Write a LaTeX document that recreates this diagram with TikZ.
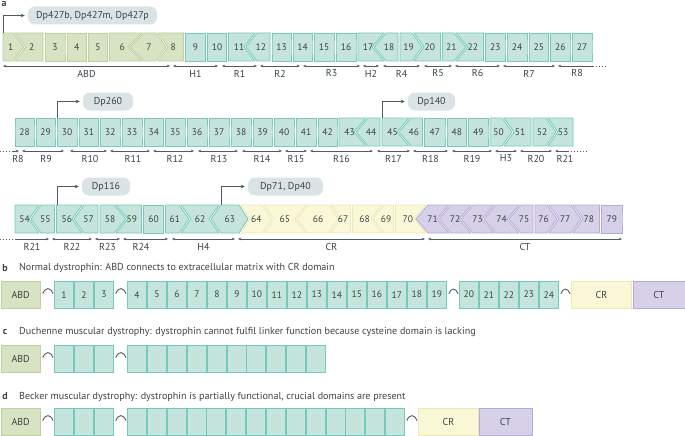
\documentclass[tikz,border=0pt]{standalone}
\usepackage{fontspec}
\setmainfont{PT Sans}
\usetikzlibrary{arrows.meta,calc}
\definecolor{tealF}{HTML}{C4E4DC}
\definecolor{tealD}{HTML}{74CBBB}
\definecolor{grnF}{HTML}{D7E3C3}
\definecolor{grnD}{HTML}{BDD09E}
\definecolor{yelF}{HTML}{FAF8D7}
\definecolor{yelD}{HTML}{ECE9B5}
\definecolor{purF}{HTML}{D6D1E8}
\definecolor{purD}{HTML}{B4ABD8}
\definecolor{dpF}{HTML}{DAE4E7}
\definecolor{ink}{HTML}{3D4347}
\definecolor{arr}{HTML}{4E5C66}
\tikzset{
 exG/.style={fill=grnF,draw=grnD,line width=0.8pt},
 exT/.style={fill=tealF,draw=tealD,line width=0.8pt},
 exY/.style={fill=yelF,draw=yelD,line width=0.8pt},
 exP/.style={fill=purF,draw=purD,line width=0.8pt},
 exnum/.style={font=\fontsize{9.5}{10}\selectfont,text=ink,inner sep=0pt},
 tipA/.tip={Stealth[length=3.2pt,width=2.6pt]},
 dim/.style={draw=arr,line width=0.6pt,{tipA}-{tipA}},
 dimL/.style={draw=arr,line width=0.6pt,{tipA}-},
 dimR/.style={draw=arr,line width=0.6pt,-{tipA}},
 dotl/.style={draw=arr,line width=0.6pt,dash pattern=on 1.3pt off 1.7pt},
 dimlab/.style={font=\fontsize{10}{10}\selectfont,text=ink,inner sep=0pt},
 dpbox/.style={fill=dpF,rounded corners=7pt,minimum height=18pt,inner sep=0pt,font=\fontsize{10}{10}\selectfont,text=ink},
 prom/.style={draw=arr,line width=0.9pt,-{Stealth[length=4pt,width=3.6pt]},shorten >=3pt},
 lett/.style={font=\bfseries\fontsize{10}{10}\selectfont,text=ink,inner sep=0pt},
 captxt/.style={font=\fontsize{10.1}{11}\selectfont,text=ink,inner sep=0pt,anchor=west},
 dbox/.style={anchor=north west,minimum height=26.5pt,inner sep=0pt,line width=0.8pt,font=\fontsize{10}{10}\selectfont,text=ink},
 dG/.style={dbox,fill=grnF,draw=grnD},
 dY/.style={dbox,fill=yelF,draw=yelD},
 dP/.style={dbox,fill=purF,draw=purD},
 sqT/.style={dbox,minimum width=19pt,fill=tealF,draw=tealD,font=\fontsize{9.5}{10}\selectfont},
 hinge/.style={draw=arr,line width=0.9pt,out=70,in=110,looseness=1.8}
}
\newcommand{\exrow}[2]{%
 \foreach \n/\a/\b/\c/\d/\s in {#2}{%
   \path[\s] (\a+1,#1) -- (\c-1,#1) -- (\d-1,#1+14) -- (\c-1,#1+28) -- (\a+1,#1+28) -- (\b+1,#1+14) -- cycle;
   \pgfmathsetmacro{\xm}{(\a+\b+\c+\d)/4}
   \node[exnum] (e\n) at (\xm,#1+14) {\n};
 }}
\newcommand{\dimA}[5]{%
 \coordinate (#1l) at (#2,#4); \coordinate (#1r) at (#3,#4);
 \draw[dim] (#1l) -- node[midway,yshift=-7.5pt,dimlab] (#1t) {#5} (#1r);}
\newcommand{\dimB}[6]{% explicit label x
 \coordinate (#1l) at (#2,#4); \coordinate (#1r) at (#3,#4);
 \draw[dim] (#1l) -- (#1r);
 \node[dimlab] (#1t) at (#6,#4+7.5) {#5};}
\begin{document}
\begin{tikzpicture}[x=1pt,y=-1pt]
\useasboundingbox (0,0) rectangle (685,436);
% ---------------- part a
\node[lett] (la) at (4,4) {a};
\exrow{33}{1/2/2/14/25/exG, 2/14/25/44/44/exG, 3/44/44/66/66/exG, 4/66/66/87.5/87.5/exG, 5/87.5/87.5/108.5/108.5/exG, 6/108.5/108.5/143/129/exG, 7/143/129/157/167/exG, 8/157/167/184.5/184.5/exG, 9/184.5/184.5/206.5/206.5/exT, 10/206.5/206.5/227.5/227.5/exT, 11/227.5/227.5/256/245/exT, 12/256/245/271/271/exT, 13/271/271/292/292/exT, 14/292/292/313/313/exT, 15/313/313/335/335/exT, 16/335/335/357/357/exT, 17/357/357/385/373/exT, 18/385/373/399/399/exT, 19/399/399/413/423/exT, 20/413/423/441.5/441.5/exT, 21/441.5/441.5/455/467/exT, 22/455/467/484.5/484.5/exT, 23/484.5/484.5/506/506/exT, 24/506/506/528/528/exT, 25/528/528/549.5/549.5/exT, 26/549.5/549.5/571/571/exT, 27/571/571/593/593/exT}
\exrow{118}{28/14/14/35/35/exT, 29/35/35/56/56/exT, 30/56/56/78/78/exT, 31/78/78/99.5/99.5/exT, 32/99.5/99.5/121/121/exT, 33/121/121/143/143/exT, 34/143/143/164.5/164.5/exT, 35/164.5/164.5/186/186/exT, 36/186/186/208/208/exT, 37/208/208/230/230/exT, 38/230/230/252/252/exT, 39/252/252/273/273/exT, 40/273/273/295/295/exT, 41/295/295/317/317/exT, 42/317/317/338/338/exT, 43/338/338/367/355/exT, 44/367/355/381/381/exT, 45/381/381/410/398/exT, 46/410/398/423.5/423.5/exT, 47/423.5/423.5/446/446/exT, 48/446/446/467.5/467.5/exT, 49/467.5/467.5/489/489/exT, 50/489/489/503/513/exT, 51/503/513/532/532/exT, 52/532/532/547/557/exT, 53/547/557/574/574/exT}
\exrow{205}{54/14/14/40/30/exT, 55/40/30/55.5/55.5/exT, 56/55.5/55.5/83/73/exT, 57/83/73/99/99/exT, 58/99/99/115/127/exT, 59/115/127/142.5/142.5/exT, 60/142.5/142.5/164.5/164.5/exT, 61/164.5/164.5/180/190/exT, 62/180/190/220/210/exT, 63/220/210/240/249/exT, 64/240/249/263/273/exY, 65/263/273/307/296/exY, 66/307/296/330/339/exY, 67/330/339/351.5/351.5/exY, 68/351.5/351.5/383/372/exY, 69/383/372/394.5/394.5/exY, 70/394.5/394.5/427/415/exY, 71/427/415/450/438/exP, 72/450/438/472/460/exP, 73/472/460/495/483/exP, 74/495/483/520/508/exP, 75/520/508/534/534/exP, 76/534/534/548/558/exP, 77/548/558/572/582/exP, 78/572/582/600.5/600.5/exP, 79/600.5/600.5/623/623/exP}
% promoters
\node[dpbox,minimum width=129pt] (dp427) at (92.5,15.5) {Dp427b, Dp427m, Dp427p};
\node[dpbox,minimum width=50pt] (dp260) at (108,101.5) {Dp260};
\node[dpbox,minimum width=47pt] (dp140) at (431.5,101.5) {Dp140};
\node[dpbox,minimum width=48pt] (dp116) at (106,186.5) {Dp116};
\node[dpbox,minimum width=75pt] (dp71) at (285.5,186.5) {Dp71, Dp40};
\coordinate (s427) at (3,33);
\coordinate (s260) at (57,118);
\coordinate (s140) at (382,118);
\coordinate (s116) at (57,205);
\coordinate (s71) at (221,205);
\draw[prom] (s427) |- (dp427);
\draw[prom] (s260) |- (dp260);
\draw[prom] (s140) |- (dp140);
\draw[prom] (s116) |- (dp116);
\draw[prom] (s71) |- (dp71);
% domain arrows row 1
\dimA{abd}{3}{170}{66}{ABD}
\dimA{h1}{173}{218}{66}{H1}
\dimA{r1}{222}{257}{66}{R1}
\dimA{r2}{260}{300}{66}{R2}
\dimA{r3}{303}{360}{66}{R3}
\dimA{h2}{363}{379}{66}{H2}
\dimA{r4}{383}{420}{66}{R4}
\dimA{r5}{424}{452}{66}{R5}
\dimA{r6}{455}{500}{66}{R6}
\dimA{r7}{503}{555}{66}{R7}
\coordinate (r8al) at (558,66); \coordinate (r8ar) at (593,66); \coordinate (r8ad) at (606,66);
\draw[dimL] (r8al) -- (r8ar); \draw[dotl] (r8ar) -- (r8ad);
\node[dimlab] (r8at) at (577,73.5) {R8};
% row 2
\coordinate (r8bd) at (0,151); \coordinate (r8bl) at (13,151); \coordinate (r8br) at (19,151);
\draw[dotl] (r8bd) -- (r8bl); \draw[dimR] (r8bl) -- (r8br);
\node[dimlab] (r8bt) at (18,158.5) {R8};
\dimB{r9}{22}{64}{151}{R9}{46}
\dimB{r10}{70}{107}{151}{R10}{90}
\dimB{r11}{110}{150}{151}{R11}{133}
\dimB{r12}{153}{194}{151}{R12}{175}
\dimB{r13}{198}{238}{151}{R13}{219}
\dimA{r14}{242}{282}{151}{R14}
\dimA{r15}{285}{307}{151}{R15}
\dimA{r16}{310}{373}{151}{R16}
\dimA{r17}{377}{410}{151}{R17}
\dimA{r18}{413}{448}{151}{R18}
\dimA{r19}{452}{492}{151}{R19}
\dimA{h3}{495}{517}{151}{H3}
\dimA{r20}{520}{552}{151}{R20}
\coordinate (r21al) at (555,151); \coordinate (r21ar) at (568,151); \coordinate (r21ad) at (587,151);
\draw[dimL] (r21al) -- (r21ar); \draw[dotl] (r21ar) -- (r21ad);
\node[dimlab] (r21at) at (565,158.5) {R21};
% row 3
\coordinate (r21bd) at (0,239); \coordinate (r21bl) at (15,239); \coordinate (r21br) at (49,239);
\draw[dotl] (r21bd) -- (r21bl); \draw[dimR] (r21bl) -- (r21br);
\node[dimlab] (r21bt) at (32,246.5) {R21};
\dimA{r22}{52}{92}{239}{R22}
\dimA{r23}{95}{120}{239}{R23}
\dimB{r24}{123}{168}{239}{R24}{141}
\dimA{h4}{172}{235}{239}{H4}
\dimA{cr}{238}{425}{239}{CR}
\dimA{ct}{428}{622}{239}{CT}
% ---------------- part b
\node[lett] (lb) at (5,268) {b};
\node[captxt] (capb) at (19,268) {Normal dystrophin: ABD connects to extracellular matrix with CR domain};
\node[dG,minimum width=39.5pt] (bABD) at (0.5,281) {ABD};
\foreach \k in {1,2,3} \node[sqT] (b\k) at ({54+(\k-1)*20},281) {\k};
\foreach \k in {4,...,19} \node[sqT] (b\k) at ({127+(\k-4)*20},281) {\k};
\foreach \k in {20,...,24} \node[sqT] (b\k) at ({459+(\k-20)*20},281) {\k};
\node[dY,minimum width=60pt] (bCR) at (571,281) {CR};
\node[dP,minimum width=52pt] (bCT) at (632.5,281) {CT};
\draw[hinge] ($(bABD.east)+(2,-1)$) to ($(b1.west)+(-1,-1)$);
\draw[hinge] ($(b3.east)+(2,-1)$) to ($(b4.west)+(-1,-1)$);
\draw[hinge] ($(b19.east)+(2,-1)$) to ($(b20.west)+(-1,-1)$);
\draw[hinge] ($(b24.east)+(2,-1)$) to ($(bCR.west)+(-1,-1)$);
% ---------------- part c
\node[lett] (lc) at (5,332) {c};
\node[captxt] (capc) at (19,332) {Duchenne muscular dystrophy: dystrophin cannot fulfil linker function because cysteine domain is lacking};
\node[dG,minimum width=39.5pt] (cABD) at (0.5,345) {ABD};
\foreach \k in {1,2,3} \node[sqT] (c\k) at ({54+(\k-1)*20},345) {};
\foreach \k in {4,...,13} \node[sqT] (c\k) at ({127+(\k-4)*19.9},345) {};
\draw[hinge] ($(cABD.east)+(2,-1)$) to ($(c1.west)+(-1,-1)$);
\draw[hinge] ($(c3.east)+(2,-1)$) to ($(c4.west)+(-1,-1)$);
% ---------------- part d
\node[lett] (ld) at (5,396.5) {d};
\node[captxt] (capd) at (19,396.5) {Becker muscular dystrophy: dystrophin is partially functional, crucial domains are present};
\node[dG,minimum width=39.5pt] (dABD) at (0.5,408) {ABD};
\foreach \k in {1,2,3} \node[sqT] (d\k) at ({54+(\k-1)*20},408) {};
\foreach \k in {4,...,17} \node[sqT] (d\k) at ({127+(\k-4)*19.85},408) {};
\node[dY,minimum width=60pt] (dCR) at (418,408) {CR};
\node[dP,minimum width=53pt] (dCT) at (478.5,408) {CT};
\draw[hinge] ($(dABD.east)+(2,-1)$) to ($(d1.west)+(-1,-1)$);
\draw[hinge] ($(d3.east)+(2,-1)$) to ($(d4.west)+(-1,-1)$);
\draw[hinge] ($(d17.east)+(2,-1)$) to ($(dCR.west)+(-1,-1)$);
\end{tikzpicture}
\end{document}
